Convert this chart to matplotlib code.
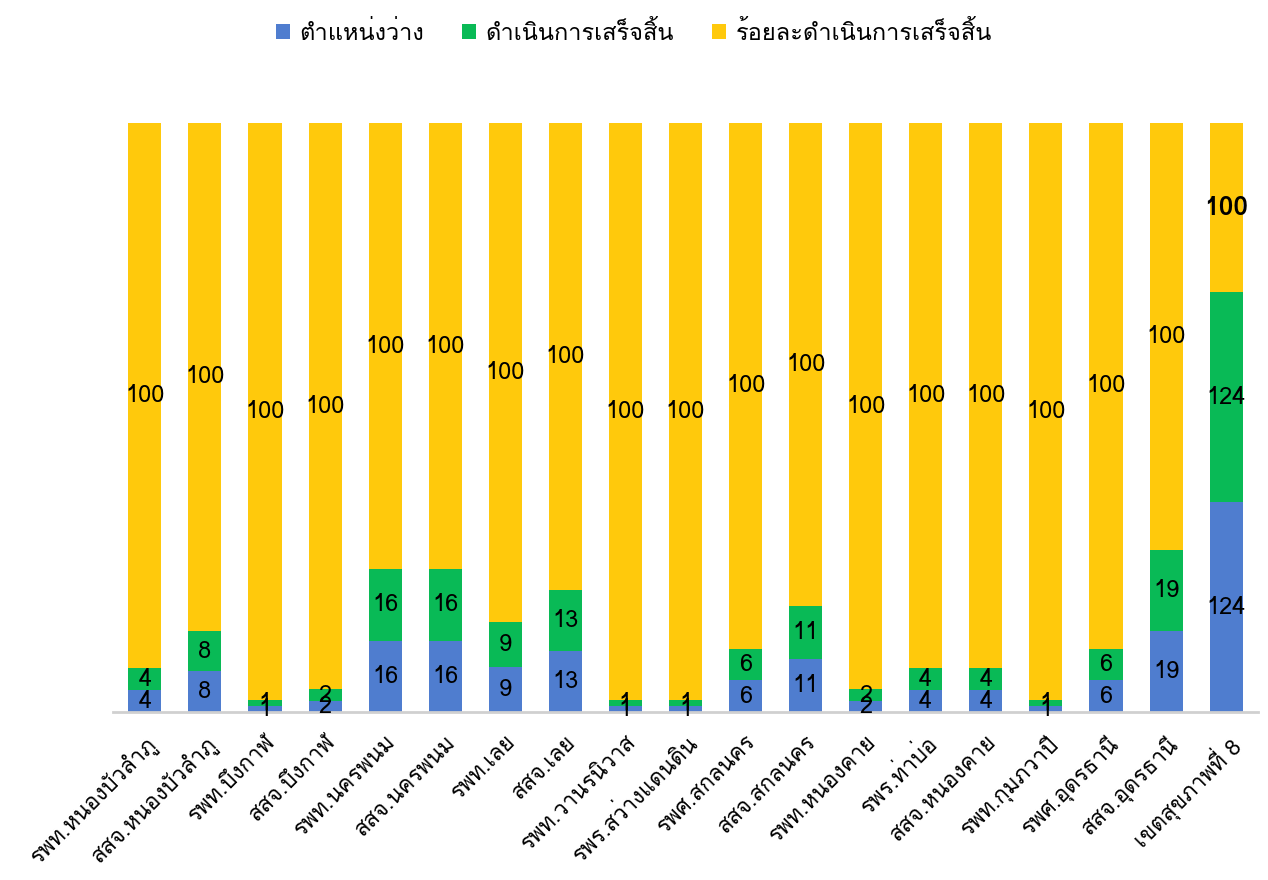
import numpy as np
import matplotlib
matplotlib.use("Agg")
import matplotlib.pyplot as plt
from matplotlib import font_manager
from matplotlib.ft2font import FT2Font

# ชื่อหน่วยงาน
labels = ["รพท.หนองบัวลำภู", "สสจ.หนองบัวลำภู", "รพท.บึงกาฬ", "สสจ.บึงกาฬ",
          "รพท.นครพนม", "สสจ.นครพนม", "รพท.เลย", "สสจ.เลย",
          "รพท.วานรนิวาส", "รพร.สว่างแดนดิน", "รพศ.สกลนคร", "สสจ.สกลนคร",
          "รพท.หนองคาย", "รพร.ท่าบ่อ", "สสจ.หนองคาย", "รพท.กุมภวาปี",
          "รพศ.อุดรธานี", "สสจ.อุดรธานี", "เขตสุขภาพที่ 8"]
vacant = [4, 8, 1, 2, 16, 16, 9, 13, 1, 1, 6, 11, 2, 4, 4, 1, 6, 19, 124]
done = [4, 8, 1, 2, 16, 16, 9, 13, 1, 1, 6, 11, 2, 4, 4, 1, 6, 19, 124]
percent = [100] * 19

series_names = ["ตำแหน่งว่าง", "ดำเนินการเสร็จสิ้น", "ร้อยละดำเนินการเสร็จสิ้น"]
colors = ["#4F7DCF", "#09BA56", "#FFC90C"]


# หาฟอนต์ที่มีอักษรไทย
def find_thai_font():
    for f in font_manager.fontManager.ttflist:
        try:
            if ord("ก") in FT2Font(f.fname).get_charmap():
                return f.name
        except Exception:
            pass
    return "DejaVu Sans"


thai_font = find_thai_font()
plt.rcParams["font.family"] = [thai_font, "DejaVu Sans"]

fig = plt.figure(figsize=(12.68, 8.80), dpi=100)
ax = fig.add_axes([113 / 1268, (880 - 712) / 880, (1258 - 113) / 1268, (712 - 123) / 880])

data = np.array([vacant, done, percent], dtype=float)
totals = data.sum(axis=0)
shares = data / totals  # 100% stacked
x = np.arange(len(labels))

bottom = np.zeros(len(labels))
for k in range(3):
    ax.bar(x, shares[k], 0.55, bottom=bottom, color=colors[k], label=series_names[k], zorder=2)
    for i in range(len(labels)):
        yc = bottom[i] + shares[k][i] / 2
        if k == 2 and i == len(labels) - 1:
            ax.text(x[i], yc, f"{data[k][i]:.0f}", ha="center", va="center",
                    fontsize=19, fontweight="bold", zorder=3)
        else:
            ax.text(x[i], yc, f"{data[k][i]:.0f}", ha="center", va="center",
                    fontsize=17, zorder=3)
    bottom += shares[k]

ax.set_xlim(-0.53, len(labels) - 0.47)
ax.set_ylim(0, 1)
ax.set_yticks([])
for s in ["top", "right", "left"]:
    ax.spines[s].set_visible(False)
ax.spines["bottom"].set_color("#d0d0d0")
ax.spines["bottom"].set_linewidth(2)

ax.set_xticks(x)
ax.set_xticklabels(labels, rotation=45, ha="right", rotation_mode="anchor", fontsize=16)
ax.tick_params(axis="x", length=0, pad=14)

fig.legend(loc="upper center", bbox_to_anchor=(0.5, 1.0), ncol=3, frameon=False,
           fontsize=17, handlelength=0.6, handleheight=0.6, handletextpad=0.4, columnspacing=1.6)

fig.savefig("out.png", dpi=100, facecolor="white")
